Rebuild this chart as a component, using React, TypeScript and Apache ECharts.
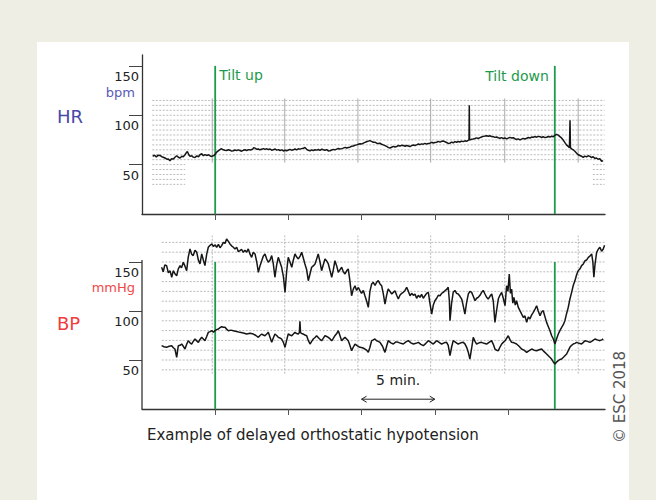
import React, { useEffect, useRef } from "react";
import * as echarts from "echarts";

// ---- axes / annotations ----
const timeTicks = [5, 10, 15, 20, 25];
const yTickValues = [50, 100, 150];
const tiltTimes = [5, 28.2];
const tiltLabels = ["Tilt up", "Tilt down"];
const tiltTop = 150;
const scaleBar = [15, 20];
const scaleBarLevel = 10;
const scaleBarLabel = "5 min.";
const hrGridLevels = [55, 60, 65, 70, 75, 80, 85, 90, 95, 100, 105, 110, 115];
const hrLowLevels = [30, 35, 40, 45, 50];
const hrGridSpan = [0.7, 31.6];
const hrLowSpans = [[0.7, 2.95], [30.8, 31.6]];
const bpGridLevels = [40, 50, 60, 70, 80, 90, 100, 110, 120, 130, 140, 150, 160, 170];
const bpGridSpan = [1.35, 31.6];
const verticalGridTimes = [4.8, 9.75, 14.75, 19.72, 24.78, 29.8];
const hrVGridRange = [52, 117];
const bpVGridRange = [36, 177];

// ---- heart rate (bpm) [minutes, value] ----
const hrData = [
  [0.73, 58.3], [0.85, 59.5], [0.98, 57.8], [1.1, 59.6], [1.23, 59.3], [1.35, 58], [1.45, 57.5], [1.57, 56.7],
  [1.7, 55.5], [1.8, 55.8], [1.91, 54], [2.02, 56], [2.14, 55.7], [2.25, 57.5], [2.37, 59], [2.48, 57.5],
  [2.6, 56.7], [2.72, 58.5], [2.82, 58], [2.94, 60], [3.02, 62], [3.1, 63.3], [3.2, 60], [3.28, 58.3],
  [3.4, 59], [3.5, 57.6], [3.62, 57.3], [3.75, 58.8], [3.86, 58], [3.96, 60], [4.08, 61], [4.19, 59],
  [4.3, 60.2], [4.42, 59.3], [4.55, 60], [4.66, 58.8], [4.76, 58.3], [4.86, 59], [4.92, 59.3], [5.02, 61],
  [5.1, 62.7], [5.25, 64.5], [5.35, 65.5], [5.44, 66], [5.55, 65], [5.66, 64.5], [5.78, 64.3], [5.9, 65],
  [6.0, 64.6], [6.12, 63.7], [6.24, 64], [6.35, 64.8], [6.47, 64.2], [6.58, 64.9], [6.69, 64.3], [6.8, 63.6],
  [6.92, 64.5], [7.03, 65], [7.15, 64.3], [7.28, 65.2], [7.4, 64.8], [7.55, 65.5], [7.63, 67.2], [7.72, 66.7],
  [7.85, 65.5], [7.95, 65.8], [8.06, 65], [8.18, 65.6], [8.3, 66.2], [8.4, 65.4], [8.52, 66], [8.63, 65.3],
  [8.75, 65.8], [8.86, 64.6], [8.97, 65], [9.1, 65.8], [9.2, 64.7], [9.32, 65.2], [9.43, 64.3], [9.55, 64.9],
  [9.66, 63.8], [9.77, 64.5], [9.88, 64], [10.0, 64.8], [10.1, 65.5], [10.22, 64.6], [10.34, 65], [10.45, 65.8],
  [10.56, 64.9], [10.68, 66], [10.79, 65.7], [10.9, 66.2], [11.02, 66.5], [11.13, 67.3], [11.25, 65.5], [11.36, 64.5],
  [11.48, 64], [11.6, 65], [11.7, 64.2], [11.82, 65.1], [11.93, 64.7], [12.05, 65.3], [12.16, 64.4], [12.28, 65.6],
  [12.39, 65], [12.5, 64.5], [12.62, 65.2], [12.73, 63.9], [12.84, 64], [12.96, 64.8], [13.07, 65.4], [13.18, 64.9],
  [13.3, 65.7], [13.41, 66.3], [13.52, 65.9], [13.64, 66.2], [13.75, 66.7], [13.87, 67.5], [13.98, 66.8], [14.09, 67.4],
  [14.2, 67.7], [14.32, 68.6], [14.43, 68.9], [14.55, 69.6], [14.66, 70], [14.78, 70.6], [14.89, 71.2], [15.0, 71],
  [15.12, 71.7], [15.23, 72.5], [15.34, 73.2], [15.46, 73.8], [15.57, 74.3], [15.68, 73.5], [15.8, 72.7], [15.91, 72.7],
  [16.03, 71.7], [16.14, 71.5], [16.26, 71.7], [16.37, 70.6], [16.48, 70], [16.6, 69.2], [16.71, 68.4], [16.82, 67.5],
  [16.94, 66.7], [17.05, 67.6], [17.17, 68.5], [17.28, 67.8], [17.4, 68.3], [17.51, 69.4], [17.62, 68.8], [17.74, 69.5],
  [17.85, 69.3], [17.97, 68.6], [18.08, 69.4], [18.2, 68.9], [18.31, 68.3], [18.42, 69.2], [18.54, 69.8], [18.65, 69.4],
  [18.76, 70], [18.88, 70.9], [18.99, 70.2], [19.1, 71], [19.22, 70.7], [19.33, 71.5], [19.44, 70.8], [19.56, 71.3],
  [19.67, 71.7], [19.79, 72.6], [19.9, 71.9], [20.01, 72.3], [20.13, 72.7], [20.24, 73.5], [20.36, 72.8], [20.47, 73.6],
  [20.58, 74], [20.7, 73.1], [20.81, 72.4], [20.92, 71.5], [21.04, 71.7], [21.15, 72.8], [21.26, 72.1], [21.38, 73.3],
  [21.49, 72.7], [21.6, 73.4], [21.72, 72.9], [21.83, 73.8], [21.95, 73.3], [22.06, 74.1], [22.17, 73.6], [22.28, 74.5],
  [22.34, 75], [22.36, 110], [22.38, 75], [22.5, 75.6], [22.63, 76], [22.74, 76.4], [22.86, 77.1], [22.97, 76.5],
  [23.09, 77.3], [23.2, 78], [23.31, 78.6], [23.43, 78.9], [23.54, 79.3], [23.66, 78.7], [23.77, 79.2], [23.88, 78.4],
  [24.0, 78.3], [24.11, 77.6], [24.22, 78], [24.34, 77.2], [24.45, 76.7], [24.56, 77.3], [24.68, 76.5], [24.79, 77],
  [24.91, 76], [25.02, 76.8], [25.13, 77.6], [25.25, 76.9], [25.36, 77.3], [25.47, 76.2], [25.59, 75.5], [25.7, 76.1],
  [25.82, 75], [25.93, 75.8], [26.04, 76.6], [26.16, 76], [26.28, 76.7], [26.39, 77.4], [26.5, 77], [26.62, 77.9],
  [26.73, 77.7], [26.84, 78.4], [26.96, 77.8], [27.07, 78.6], [27.19, 78.3], [27.3, 77.5], [27.41, 78.2], [27.53, 77.4],
  [27.64, 77.7], [27.75, 78.5], [27.87, 77.9], [27.98, 78.8], [28.1, 78.3], [28.2, 79.5], [28.32, 80.7], [28.43, 79.8],
  [28.55, 78.3], [28.66, 77], [28.77, 75], [28.88, 72.5], [29.0, 70], [29.11, 68.5], [29.2, 67], [29.24, 95],
  [29.27, 67], [29.35, 66], [29.46, 65], [29.57, 63.5], [29.68, 61.8], [29.8, 60], [29.91, 59.2], [30.02, 58.5],
  [30.14, 57.3], [30.25, 58.6], [30.37, 57.8], [30.48, 59], [30.6, 58.3], [30.71, 57.2], [30.82, 58], [30.94, 56.3],
  [31.05, 56.7], [31.16, 55.4], [31.28, 55.9], [31.4, 53.3], [31.5, 54]
];

// ---- systolic blood pressure (mmHg) ----
const sysData = [
  [1.34, 144.6], [1.45, 140], [1.56, 147], [1.68, 146.3], [1.8, 139], [1.92, 141], [2.03, 134.4], [2.14, 141.1],
  [2.25, 138], [2.37, 136], [2.48, 143], [2.6, 146.3], [2.7, 144], [2.82, 149.7], [2.93, 146], [3.05, 141.1],
  [3.16, 155], [3.28, 163.3], [3.39, 158], [3.5, 156.5], [3.62, 162], [3.74, 159.9], [3.85, 152], [3.96, 148],
  [4.08, 158.2], [4.19, 152], [4.3, 146.3], [4.42, 158], [4.53, 165], [4.65, 167], [4.76, 168.4], [4.88, 166],
  [5.0, 167.5], [5.1, 165], [5.22, 168], [5.33, 164.5], [5.44, 166.7], [5.56, 170], [5.67, 169], [5.78, 173.5],
  [5.9, 171], [6.01, 168.4], [6.12, 166.5], [6.24, 165], [6.35, 163.3], [6.47, 165], [6.58, 160.5], [6.69, 161.6],
  [6.8, 163], [6.92, 159.9], [7.03, 162], [7.15, 160], [7.26, 163.3], [7.38, 158], [7.49, 154.8], [7.6, 160],
  [7.72, 158.2], [7.84, 150], [7.95, 139.5], [8.06, 146], [8.18, 151.3], [8.29, 156], [8.4, 158.2], [8.52, 153],
  [8.63, 149.7], [8.75, 152], [8.86, 156.5], [8.97, 148], [9.08, 134.4], [9.2, 147], [9.31, 154.8], [9.42, 150],
  [9.54, 144.6], [9.66, 135], [9.77, 119], [9.88, 140], [9.99, 154.8], [10.11, 150], [10.23, 144.6], [10.34, 152],
  [10.45, 158.2], [10.57, 155], [10.68, 153.1], [10.8, 156], [10.91, 159.9], [11.02, 154], [11.13, 148], [11.25, 142],
  [11.36, 130.9], [11.48, 138], [11.59, 144.6], [11.7, 146], [11.82, 148], [11.93, 153], [12.04, 158.2], [12.16, 150],
  [12.27, 141.1], [12.38, 147], [12.5, 153.1], [12.62, 151], [12.73, 148], [12.85, 141], [12.96, 134.4], [13.07, 142],
  [13.18, 151.3], [13.3, 146], [13.41, 139.5], [13.52, 142], [13.64, 144.6], [13.75, 140], [13.87, 137.8], [13.98, 141],
  [14.09, 142.9], [14.2, 131], [14.32, 115.6], [14.43, 122], [14.55, 125.8], [14.66, 121], [14.78, 124], [14.89, 120.7],
  [15.0, 118], [15.12, 121], [15.23, 115.6], [15.35, 110], [15.46, 103.7], [15.57, 120], [15.69, 127.6], [15.8, 129.3],
  [15.92, 126], [16.03, 129.3], [16.14, 131], [16.26, 127.6], [16.37, 125.8], [16.48, 118], [16.6, 107.1], [16.71, 116],
  [16.82, 122.4], [16.94, 120], [17.06, 117.3], [17.17, 119], [17.28, 120.7], [17.4, 116], [17.51, 112.2], [17.62, 116],
  [17.74, 118], [17.85, 119], [17.97, 121], [18.08, 124.2], [18.2, 120], [18.31, 115.6], [18.42, 118], [18.54, 116],
  [18.65, 117.3], [18.76, 113], [18.88, 116], [18.99, 114], [19.1, 117], [19.22, 113], [19.33, 115.6], [19.44, 118],
  [19.56, 119], [19.67, 108], [19.79, 96.9], [19.9, 106], [20.01, 110.5], [20.13, 113], [20.24, 116], [20.36, 115.6],
  [20.47, 118], [20.58, 119], [20.7, 120.7], [20.81, 122], [20.92, 124.2], [21.0, 110], [21.04, 90.1], [21.15, 108],
  [21.26, 119], [21.38, 121], [21.49, 118], [21.6, 117.3], [21.72, 115], [21.84, 112.2], [21.95, 105], [22.06, 96.9],
  [22.17, 108], [22.29, 117.3], [22.4, 120], [22.52, 119], [22.63, 115], [22.75, 110.5], [22.86, 113], [22.97, 114],
  [23.09, 116], [23.2, 119], [23.31, 121], [23.43, 117.3], [23.54, 114], [23.65, 112.2], [23.77, 115], [23.89, 117.3],
  [24.0, 110], [24.11, 88.4], [24.22, 100], [24.34, 112.2], [24.45, 116], [24.57, 119], [24.68, 113], [24.8, 105.4],
  [24.91, 125.8], [25.0, 120], [25.09, 137.8], [25.17, 118], [25.25, 122.4], [25.33, 108], [25.41, 114], [25.5, 106],
  [25.59, 110.5], [25.7, 104], [25.82, 100.3], [25.93, 97], [26.05, 93.5], [26.16, 95], [26.28, 88.4], [26.39, 94],
  [26.5, 91.8], [26.62, 96], [26.73, 98.6], [26.85, 102], [26.96, 105.4], [27.07, 100], [27.19, 95.2], [27.3, 99],
  [27.41, 100.3], [27.53, 94], [27.64, 88.4], [27.76, 84], [27.87, 79.9], [27.98, 75], [28.1, 71.4], [28.21, 66.3],
  [28.33, 72], [28.44, 76.5], [28.55, 80], [28.67, 83.3], [28.78, 86], [28.89, 90.1], [29.0, 97], [29.12, 103.7],
  [29.23, 112], [29.35, 119], [29.46, 126], [29.58, 131], [29.69, 137], [29.8, 141.1], [29.92, 143], [30.03, 146.3],
  [30.15, 148], [30.26, 151.3], [30.37, 152], [30.49, 154.8], [30.6, 156], [30.72, 158.2], [30.8, 150], [30.87, 134.4],
  [30.95, 148], [31.06, 159.9], [31.17, 163], [31.28, 165], [31.4, 161], [31.51, 163.3], [31.6, 167]
];

// ---- diastolic blood pressure (mmHg) ----
const diaData = [
  [1.34, 64.6], [1.5, 63.5], [1.68, 62.9], [1.85, 64], [2.03, 64.6], [2.14, 62.5], [2.25, 61.2], [2.37, 52.7],
  [2.48, 64.6], [2.6, 65], [2.71, 66.3], [2.82, 64], [2.94, 61.2], [3.05, 66], [3.16, 69.7], [3.28, 67.5],
  [3.39, 66.3], [3.5, 69], [3.62, 71.4], [3.74, 69.5], [3.85, 68], [3.96, 71], [4.08, 73.1], [4.19, 71.5],
  [4.3, 69.7], [4.42, 74], [4.53, 78.2], [4.65, 79], [4.76, 79.9], [4.88, 78.5], [4.99, 79.9], [5.1, 81],
  [5.22, 81.6], [5.33, 83], [5.44, 84], [5.56, 83.5], [5.67, 83.3], [5.78, 81.5], [5.9, 79.9], [6.07, 80.5],
  [6.24, 79.9], [6.46, 79], [6.69, 78.2], [6.92, 77.5], [7.15, 76.5], [7.38, 77.2], [7.61, 76.5], [7.78, 75],
  [7.95, 73.1], [8.06, 75], [8.18, 76.5], [8.29, 75.5], [8.4, 74.8], [8.52, 76.5], [8.63, 78.2], [8.75, 73],
  [8.86, 68], [8.97, 72.5], [9.08, 76.5], [9.2, 75], [9.31, 73.1], [9.42, 72.5], [9.54, 71.4], [9.66, 68],
  [9.77, 62.9], [9.88, 70], [9.99, 76.5], [10.11, 75.5], [10.23, 74.8], [10.34, 76.5], [10.45, 78.2], [10.57, 77],
  [10.68, 76.5], [10.75, 78], [10.79, 89.5], [10.83, 78], [10.9, 77], [11.02, 76.5], [11.13, 75.5], [11.25, 74.8],
  [11.36, 70], [11.48, 66.3], [11.59, 69], [11.7, 71.4], [11.82, 73], [11.93, 74.8], [12.1, 72], [12.27, 69.7],
  [12.38, 72], [12.5, 74.8], [12.62, 74], [12.73, 73.1], [12.85, 71.5], [12.96, 69.7], [13.07, 72], [13.18, 74.8],
  [13.3, 77], [13.41, 79.9], [13.52, 75], [13.64, 69.7], [13.75, 71.5], [13.87, 73.1], [13.98, 71.5], [14.09, 69.7],
  [14.2, 65], [14.32, 59.5], [14.43, 63], [14.55, 66.3], [14.72, 64.5], [14.89, 62.9], [15.06, 62.5], [15.23, 61.2],
  [15.35, 60], [15.46, 57.8], [15.57, 63], [15.69, 69.7], [15.8, 70.5], [15.91, 71.4], [16.03, 69.7], [16.14, 69],
  [16.26, 68], [16.43, 64], [16.6, 57.8], [16.71, 64], [16.82, 69.7], [17.0, 67.5], [17.17, 66.3], [17.34, 68.5],
  [17.51, 68], [17.68, 67], [17.85, 66.3], [18.03, 68.5], [18.2, 69.7], [18.37, 67.5], [18.54, 66.3], [18.71, 67],
  [18.88, 68], [19.05, 66], [19.22, 64.6], [19.39, 67], [19.56, 69.7], [19.73, 68], [19.9, 66.3], [20.01, 68],
  [20.13, 69.7], [20.3, 68], [20.47, 66.3], [20.64, 67.5], [20.81, 68], [20.92, 65], [21.04, 54.4], [21.15, 63],
  [21.26, 69.7], [21.43, 68], [21.6, 66.3], [21.78, 67.5], [21.95, 68], [22.06, 66.5], [22.18, 62.9], [22.29, 58],
  [22.4, 51], [22.52, 62], [22.63, 73.1], [22.75, 69], [22.86, 66.3], [23.03, 67.5], [23.2, 68], [23.37, 67],
  [23.54, 66.3], [23.71, 68], [23.88, 69.7], [24.0, 66], [24.11, 61.2], [24.22, 60], [24.34, 59.5], [24.45, 63],
  [24.57, 66.3], [24.68, 68], [24.8, 69.7], [24.91, 72], [25.02, 74.8], [25.13, 71], [25.25, 68], [25.42, 67.5],
  [25.59, 66.3], [25.76, 64], [25.93, 61.2], [26.1, 60], [26.28, 57.8], [26.45, 59.5], [26.62, 61.2], [26.79, 60],
  [26.96, 59.5], [27.13, 60.5], [27.3, 61.2], [27.47, 58.5], [27.64, 56.1], [27.81, 53.5], [27.98, 51], [28.1, 48],
  [28.21, 45.9], [28.33, 48], [28.44, 49.3], [28.55, 50.5], [28.67, 51], [28.84, 53.5], [29.01, 56.1], [29.12, 59.5],
  [29.23, 62.9], [29.35, 65], [29.46, 66.3], [29.58, 67], [29.69, 68], [29.86, 67], [30.03, 66.3], [30.15, 68],
  [30.26, 69.7], [30.43, 69], [30.6, 68], [30.77, 69.5], [30.94, 71.4], [31.11, 70.5], [31.28, 69.7], [31.4, 70.5],
  [31.51, 71.4]
];

const FONT = "DejaVu Sans";
const INK = "#222222";
const GREEN = "#1e9a4c";
const X_MAX = 31.63;

function buildOption() {
  const series: any[] = [];
  const base = { type: "line", symbol: "none", showSymbol: false, silent: true, clip: false, animation: false };
  const dotted = { color: "#aaaaaa", width: 0.8, type: [2, 1.5] };

  hrGridLevels.forEach((v) => {
    series.push({ ...base, xAxisIndex: 0, yAxisIndex: 0, z: 1, lineStyle: dotted,
      data: [[hrGridSpan[0], v], [hrGridSpan[1], v]] });
  });
  hrLowLevels.forEach((v) => {
    hrLowSpans.forEach((s) => {
      series.push({ ...base, xAxisIndex: 0, yAxisIndex: 0, z: 1, lineStyle: dotted,
        data: [[s[0], v], [s[1], v]] });
    });
  });
  bpGridLevels.forEach((v) => {
    series.push({ ...base, xAxisIndex: 1, yAxisIndex: 1, z: 1, lineStyle: dotted,
      data: [[bpGridSpan[0], v], [bpGridSpan[1], v]] });
  });
  verticalGridTimes.forEach((t) => {
    series.push({ ...base, xAxisIndex: 0, yAxisIndex: 0, z: 1,
      lineStyle: { color: "#a0a0a0", width: 0.9 },
      data: [[t, hrVGridRange[0]], [t, hrVGridRange[1]]] });
    series.push({ ...base, xAxisIndex: 1, yAxisIndex: 1, z: 1,
      lineStyle: { color: "#b0b0b0", width: 0.9, type: [2, 1.5] },
      data: [[t, bpVGridRange[0]], [t, bpVGridRange[1]]] });
  });
  tiltTimes.forEach((t) => {
    [0, 1].forEach((g) => {
      series.push({ ...base, xAxisIndex: g, yAxisIndex: g, z: 2,
        lineStyle: { color: GREEN, width: 1.8 },
        data: [[t, 0], [t, tiltTop]] });
    });
  });
  series.push({ ...base, xAxisIndex: 1, yAxisIndex: 1, z: 4,
    lineStyle: { color: "#333", width: 1.3 }, data: [[0, 0], [0, 152]] });
  series.push({ ...base, xAxisIndex: 1, yAxisIndex: 1, z: 4,
    lineStyle: { color: INK, width: 1 },
    data: [[scaleBar[0], scaleBarLevel], [scaleBar[1], scaleBarLevel]] });

  const trace = { color: "#161616", width: 1.5 };
  series.push({ ...base, name: "HR", xAxisIndex: 0, yAxisIndex: 0, z: 3, lineStyle: trace, data: hrData });
  series.push({ ...base, name: "Systolic", xAxisIndex: 1, yAxisIndex: 1, z: 3, lineStyle: trace, data: sysData });
  series.push({ ...base, name: "Diastolic", xAxisIndex: 1, yAxisIndex: 1, z: 3, lineStyle: trace, data: diaData });

  const xAxisCfg = (g: number) => ({
    gridIndex: g, type: "value", min: 0, max: X_MAX, interval: 5,
    axisLine: { show: true, onZero: false, lineStyle: { color: "#333", width: 1.3 } },
    axisTick: { show: true, customValues: timeTicks, length: 6, lineStyle: { color: "#555", width: 1 } },
    axisLabel: { show: false },
    splitLine: { show: false },
  });
  const yAxisCfg = (g: number, max: number, showLine: boolean) => ({
    gridIndex: g, type: "value", min: 0, max, interval: 50,
    axisLine: { show: showLine, lineStyle: { color: "#333", width: 1.3 } },
    axisTick: { show: true, customValues: yTickValues, length: 13, lineStyle: { color: "#444", width: 1 } },
    axisLabel: { show: true, customValues: yTickValues, margin: 3, verticalAlign: "top", lineHeight: 21,
      fontSize: 13, fontFamily: FONT, color: INK },
    splitLine: { show: false },
  });

  return {
    animation: false,
    backgroundColor: "transparent",
    grid: [
      { left: 142, top: 55, width: 463, height: 159 },
      { left: 142, top: 237, width: 463, height: 172 },
    ],
    xAxis: [xAxisCfg(0), xAxisCfg(1)],
    yAxis: [yAxisCfg(0, 161, true), yAxisCfg(1, 175.5, false)],
    series,
  };
}

export default function App() {
  const ref = useRef<HTMLDivElement>(null);
  useEffect(() => {
    if (!ref.current) return;
    const chart = echarts.init(ref.current, null, { renderer: "svg" });
    chart.setOption(buildOption());

    const a = chart.convertToPixel({ gridIndex: 1 }, [scaleBar[0], scaleBarLevel]) as number[];
    const b = chart.convertToPixel({ gridIndex: 1 }, [scaleBar[1], scaleBarLevel]) as number[];
    const up = chart.convertToPixel({ gridIndex: 0 }, [tiltTimes[0], tiltTop]) as number[];
    const down = chart.convertToPixel({ gridIndex: 0 }, [tiltTimes[1], tiltTop]) as number[];

    const txt = (x: number, y: number, text: string, size: number, fill: string, align = "left", extra: any = {}) => ({
      type: "text", x, y, silent: true, ...extra,
      style: { text, fontSize: size, fontFamily: FONT, fill, align, verticalAlign: "middle" },
    });

    chart.setOption({
      graphic: [
        txt(57, 116, "HR", 18, "#4848a8"),
        txt(135, 92, "bpm", 13, "#5a5ab8", "right"),
        txt(57, 323, "BP", 18, "#f03c3c"),
        txt(135, 287, "mmHg", 13, "#f04848", "right"),
        txt(up[0] + 4, up[1] + 9, tiltLabels[0], 14, GREEN, "left"),
        txt(down[0] - 6, down[1] + 10, tiltLabels[1], 14, GREEN, "right"),
        txt((a[0] + b[0]) / 2, a[1] - 19, scaleBarLabel, 14, INK, "center"),
        {
          type: "polyline", silent: true,
          shape: { points: [[a[0] + 5, a[1] - 3], [a[0], a[1]], [a[0] + 5, a[1] + 3]] },
          style: { stroke: INK, fill: null, lineWidth: 1 },
        },
        {
          type: "polyline", silent: true,
          shape: { points: [[b[0] - 5, b[1] - 3], [b[0], b[1]], [b[0] - 5, b[1] + 3]] },
          style: { stroke: INK, fill: null, lineWidth: 1 },
        },
        txt(147, 435, "Example of delayed orthostatic hypotension", 15, INK, "left"),
        txt(620, 397, "© ESC 2018", 15, "#555555", "center", { rotation: Math.PI / 2 }),
      ],
    });
    return () => chart.dispose();
  }, []);

  return (
    <div style={{ position: "absolute", left: 0, top: 0, width: 656, height: 500, background: "#eeeee4", overflow: "hidden" }}>
      <div style={{ position: "absolute", left: 37, top: 42, width: 592, height: 458, background: "#ffffff" }} />
      <div ref={ref} style={{ position: "absolute", left: 0, top: 0, width: 656, height: 500 }} />
    </div>
  );
}
